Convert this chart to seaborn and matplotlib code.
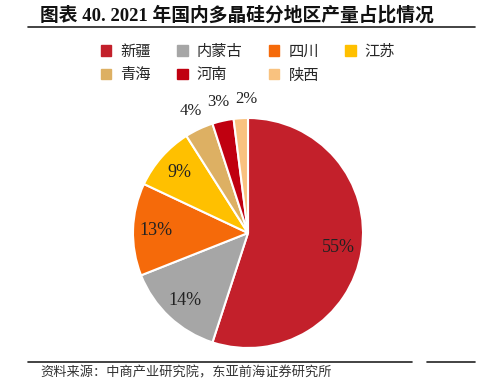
import matplotlib
matplotlib.use('Agg')
import matplotlib.pyplot as plt
import matplotlib.patches as mpatches
from matplotlib.lines import Line2D
import numpy as np
import seaborn as sns

# 数据
regions = ['新疆', '内蒙古', '四川', '江苏', '青海', '河南', '陕西']
shares = [55, 14, 13, 9, 4, 3, 2]
colors = ['#C3202B', '#A6A6A6', '#F56A0A', '#FFC000', '#DDB063', '#C00010', '#F9C27F']

sns.set_theme(style='white')
plt.rcParams['font.family'] = ['Liberation Serif', 'Noto Sans CJK SC', 'DejaVu Sans']

W, H = 500, 388
fig = plt.figure(figsize=(W / 100, H / 100), dpi=100)
fig.patch.set_facecolor('white')

# 饼图位置 (像素 -> 比例)
cx, cy, r = 248, 233, 115
ax = fig.add_axes([(cx - r) / W, (H - cy - r) / H, 2 * r / W, 2 * r / H])
wedges, _ = ax.pie(shares, colors=colors, startangle=90, counterclock=False,
                   radius=1, wedgeprops=dict(edgecolor='white', linewidth=1.5))
ax.set_xlim(-1, 1)
ax.set_ylim(-1, 1)
ax.set_aspect('equal')
ax.axis('off')

for w, v in zip(wedges, shares):
    ang = np.deg2rad((w.theta1 + w.theta2) / 2)
    if v >= 9:
        x, y, fs = 0.8 * np.cos(ang), 0.8 * np.sin(ang), 13
    else:
        x, y, fs = 1.17 * np.cos(ang), 1.17 * np.sin(ang), 12
        if v == 2:
            x += 0.06  # 稍微右移避免与3%重叠
    ax.text(x, y, f'{v}%', ha='center', va='center',
            fontsize=fs, color='#222222', family='Liberation Serif', clip_on=False)

# 标题
fig.text(40 / W, 1 - 15 / H, '图表 40. 2021 年国内多晶硅分地区产量占比情况', ha='left', va='center',
         fontsize=13.5, fontweight='bold', color='#111111',
         family=['Liberation Serif', 'Noto Sans CJK SC'])
fig.add_artist(Line2D([28 / W, 475 / W], [1 - 27 / H, 1 - 27 / H], color='#222222', lw=1.2))

# 图例 (按行排列: 列优先填充所以重新排序)
order = [0, 4, 1, 5, 2, 6, 3]
handles = [mpatches.Patch(color=colors[i], label=regions[i]) for i in order]
fig.legend(handles=handles, loc='center', bbox_to_anchor=(248 / W, 1 - 63 / H), ncol=4,
           frameon=False, handlelength=0.7, handleheight=0.7, handletextpad=0.6,
           columnspacing=1.7, labelspacing=0.45,
           prop=dict(family=['Noto Sans CJK SC'], size=11))

# 底部
fig.add_artist(Line2D([28 / W, 412 / W], [1 - 362 / H, 1 - 362 / H], color='#222222', lw=1.2))
fig.add_artist(Line2D([427 / W, 475 / W], [1 - 362 / H, 1 - 362 / H], color='#222222', lw=1.2))
fig.text(40 / W, 1 - 373 / H, '资料来源：中商产业研究院，东亚前海证券研究所', ha='left', va='center',
         fontsize=9.5, color='#333333', family=['Noto Sans CJK SC'])

fig.savefig('out.png', dpi=100, facecolor='white')
